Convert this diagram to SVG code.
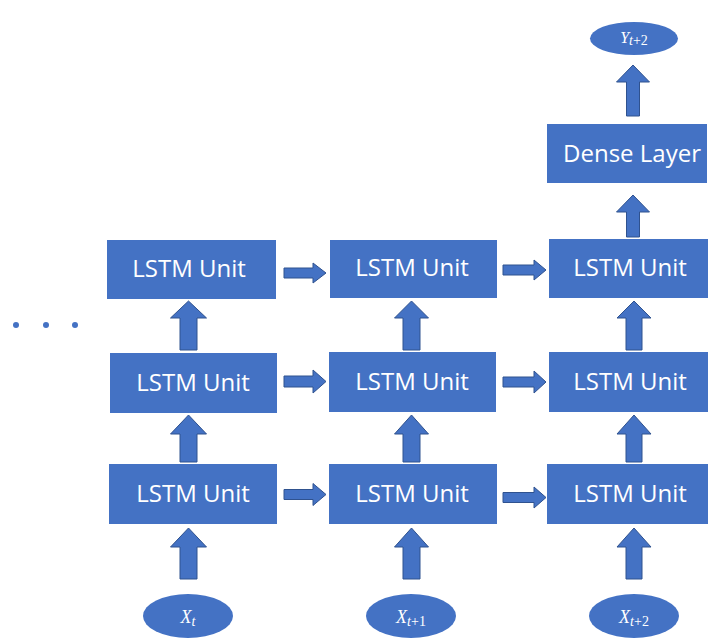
<svg xmlns="http://www.w3.org/2000/svg" width="709" height="642" viewBox="0 0 709 642">
<style>
.box{fill:#4472C4}
.arr{fill:#4472C4;stroke:#2F528F;stroke-width:1}
.lbl{font-family:"Open Sans","Noto Sans",sans-serif;font-size:24px;fill:#fff;text-anchor:middle}
.mth{font-family:"Liberation Serif","DejaVu Serif",serif;font-style:italic;font-size:18px;fill:#fff;text-anchor:middle}
.sub{font-size:14px}
.up{font-style:normal}
.dot{fill:#4472C4}
</style>
<rect width="709" height="642" fill="#fff"/>
<g id="ellipsis">
<circle class="dot" cx="16" cy="325" r="3"/>
<circle class="dot" cx="46" cy="325" r="3"/>
<circle class="dot" cx="75" cy="325" r="3"/>
</g>
<g id="connectors">
<polygon class="arr" points="188.5,528 206.5,547 197,547 197,579 180,579 180,547 170.5,547"/>
<polygon class="arr" points="411.5,528 428.5,547 420,547 420,579 403,579 403,547 394.5,547"/>
<polygon class="arr" points="634,528 651,547 642,547 642,579 626,579 626,547 617,547"/>
<polygon class="arr" points="188.5,415 206.5,434 197,434 197,462 180,462 180,434 170.5,434"/>
<polygon class="arr" points="411.5,415 428.5,434 420,434 420,462 403,462 403,434 394.5,434"/>
<polygon class="arr" points="634,415 651,434 642,434 642,462 626,462 626,434 617,434"/>
<polygon class="arr" points="188.5,301 206.5,318 197,318 197,350 180,350 180,318 170.5,318"/>
<polygon class="arr" points="411.5,301 428.5,318 420,318 420,350 403,350 403,318 394.5,318"/>
<polygon class="arr" points="634,301 651,318 642,318 642,350 626,350 626,318 617,318"/>
<polygon class="arr" points="633,195 649.5,212 639.5,212 639.5,237 626.5,237 626.5,212 616.5,212"/>
<polygon class="arr" points="633,65 649.5,82 639.5,82 639.5,116 626.5,116 626.5,82 616.5,82"/>
<polygon class="arr" points="284,268 313,268 313,263 326,273 313,283 313,278 284,278"/>
<polygon class="arr" points="503,265 534,265 534,260 546,270 534,280 534,275 503,275"/>
<polygon class="arr" points="284,376 313,376 313,370 326,381.5 313,393 313,387 284,387"/>
<polygon class="arr" points="503,377 534,377 534,371 546,382 534,393 534,387 503,387"/>
<polygon class="arr" points="284,489.5 313,489.5 313,483.5 326,494.5 313,505.5 313,499.5 284,499.5"/>
<polygon class="arr" points="503,492.5 534,492.5 534,487 546,497.5 534,508 534,502.5 503,502.5"/>
</g>
<g id="lstm_1_3"><rect class="box" x="107" y="240" width="169" height="59"/><text class="lbl" x="189" y="277">LSTM Unit</text></g>
<g id="lstm_1_2"><rect class="box" x="110" y="353" width="167" height="60"/><text class="lbl" x="193" y="391">LSTM Unit</text></g>
<g id="lstm_1_1"><rect class="box" x="109" y="464" width="168" height="60"/><text class="lbl" x="193" y="502">LSTM Unit</text></g>
<g id="lstm_2_3"><rect class="box" x="330" y="240" width="167" height="58"/><text class="lbl" x="412" y="276">LSTM Unit</text></g>
<g id="lstm_2_2"><rect class="box" x="329" y="352" width="167" height="60"/><text class="lbl" x="412" y="390">LSTM Unit</text></g>
<g id="lstm_2_1"><rect class="box" x="329" y="464" width="168" height="60"/><text class="lbl" x="412" y="502">LSTM Unit</text></g>
<g id="lstm_3_3"><rect class="box" x="549" y="239" width="159" height="59"/><text class="lbl" x="630" y="276">LSTM Unit</text></g>
<g id="lstm_3_2"><rect class="box" x="549" y="352" width="159" height="60"/><text class="lbl" x="630" y="390">LSTM Unit</text></g>
<g id="lstm_3_1"><rect class="box" x="547" y="464" width="161" height="60"/><text class="lbl" x="630" y="502">LSTM Unit</text></g>
<g id="dense"><rect class="box" x="547" y="124" width="160" height="59"/><text class="lbl" x="632" y="162">Dense Layer</text></g>
<g id="y_t2"><ellipse class="box" cx="634" cy="38.5" rx="44" ry="16.5"/><text class="mth" x="634" y="43" style="font-size:16px">Y<tspan class="sub" dy="2">t</tspan><tspan class="sub up">+2</tspan></text></g>
<g id="x_t"><ellipse class="box" cx="188" cy="616" rx="45" ry="22"/><text class="mth" x="188" y="623">X<tspan class="sub" dy="3">t</tspan></text></g>
<g id="x_t1"><ellipse class="box" cx="411" cy="616" rx="45" ry="22"/><text class="mth" x="411" y="623">X<tspan class="sub" dy="3">t</tspan><tspan class="sub up">+1</tspan></text></g>
<g id="x_t2"><ellipse class="box" cx="634" cy="616" rx="45" ry="22"/><text class="mth" x="634" y="623">X<tspan class="sub" dy="3">t</tspan><tspan class="sub up">+2</tspan></text></g>
</svg>
